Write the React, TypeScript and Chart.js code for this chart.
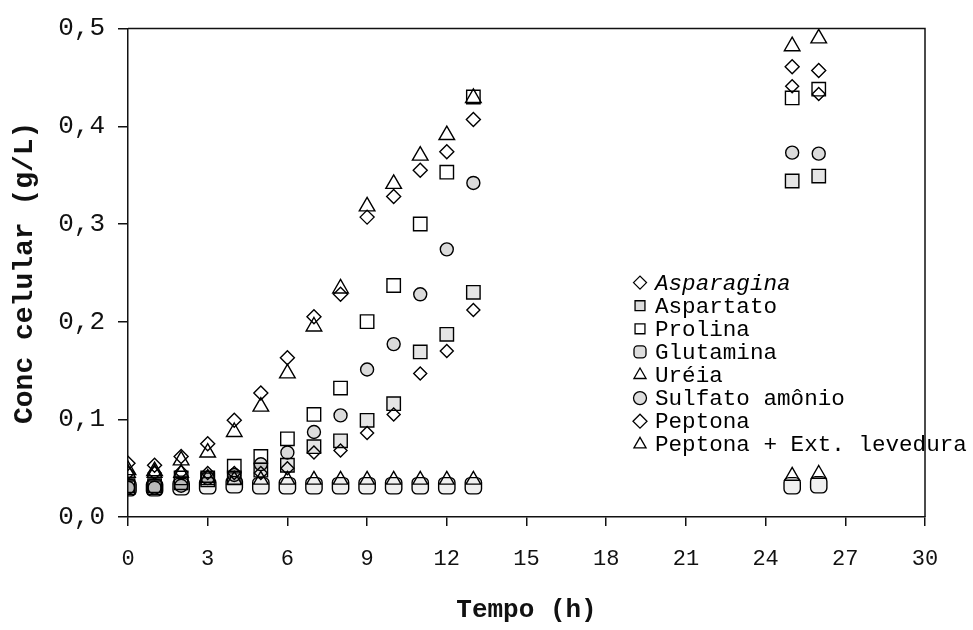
import React, { useEffect, useRef } from 'react';
import { Chart, registerables } from 'chart.js';
import { drawPoint } from 'chart.js/helpers';

Chart.register(...registerables);

const times = [0, 1, 2, 3, 4, 5, 6, 7, 8, 9, 10, 11, 12, 13, 25, 26];
const asparagina = [0.045, 0.045, 0.046, 0.045, 0.045, 0.045, 0.050, 0.066, 0.068, 0.086, 0.105, 0.147, 0.170, 0.212, 0.441, 0.433];
const aspartato = [0.032, 0.032, 0.035, 0.038, 0.040, 0.048, 0.053, 0.072, 0.078, 0.099, 0.116, 0.169, 0.187, 0.230, 0.344, 0.349];
const prolina = [0.030, 0.030, 0.040, 0.040, 0.052, 0.062, 0.080, 0.105, 0.132, 0.200, 0.237, 0.300, 0.353, 0.430, 0.429, 0.438];
const glutamina = [0.030, 0.030, 0.031, 0.032, 0.033, 0.032, 0.032, 0.032, 0.032, 0.032, 0.032, 0.032, 0.032, 0.032, 0.032, 0.033];
const ureia = [0.045, 0.045, 0.045, 0.040, 0.038, 0.038, 0.038, 0.038, 0.038, 0.038, 0.038, 0.038, 0.038, 0.038, 0.042, 0.044];
const sulfato = [0.030, 0.030, 0.032, 0.040, 0.043, 0.054, 0.066, 0.087, 0.104, 0.151, 0.177, 0.228, 0.274, 0.342, 0.373, 0.372];
const peptona = [0.055, 0.053, 0.062, 0.075, 0.099, 0.127, 0.163, 0.205, 0.228, 0.307, 0.328, 0.355, 0.374, 0.407, 0.461, 0.457];
const peptonaExt = [0.048, 0.047, 0.058, 0.066, 0.087, 0.113, 0.147, 0.195, 0.234, 0.318, 0.341, 0.370, 0.391, 0.429, 0.482, 0.490];

const seriesLabels = [
  'Asparagina',
  'Aspartato',
  'Prolina',
  'Glutamina',
  'Uréia',
  'Sulfato amônio',
  'Peptona',
  'Peptona + Ext. levedura',
];

const xTicks = [0, 3, 6, 9, 12, 15, 18, 21, 24, 27, 30];
const yTicks = [0, 0.1, 0.2, 0.3, 0.4, 0.5];

const MONO = "'Liberation Mono', 'Courier New', monospace";

const styles = [
  { pointStyle: 'rectRot', radius: 6.5, fill: 'rgba(0,0,0,0)', italic: true },
  { pointStyle: 'rect', radius: 9.5, fill: 'rgba(0,0,0,0.10)' },
  { pointStyle: 'rect', radius: 9.5, fill: 'rgba(0,0,0,0)' },
  { pointStyle: 'rectRounded', radius: 9.5, fill: 'rgba(0,0,0,0.06)' },
  { pointStyle: 'triangle', radius: 8.5, fill: 'rgba(0,0,0,0)' },
  { pointStyle: 'circle', radius: 6.5, fill: 'rgba(0,0,0,0.14)' },
  { pointStyle: 'rectRot', radius: 7, fill: 'rgba(0,0,0,0)' },
  { pointStyle: 'triangle', radius: 9, fill: 'rgba(0,0,0,0)' },
];

const allSeries = [asparagina, aspartato, prolina, glutamina, ureia, sulfato, peptona, peptonaExt];

const framePlugin = {
  id: 'frame',
  afterDraw(chart: any) {
    const { ctx, chartArea } = chart;
    ctx.save();
    ctx.strokeStyle = '#111';
    ctx.lineWidth = 1.5;
    ctx.beginPath();
    ctx.moveTo(chartArea.left, chartArea.top);
    ctx.lineTo(chartArea.right, chartArea.top);
    ctx.lineTo(chartArea.right, chartArea.bottom);
    ctx.stroke();
    ctx.restore();
  },
};

const legendPlugin = {
  id: 'customLegend',
  afterDraw(chart: any) {
    const { ctx, chartArea } = chart;
    const symX = chartArea.left + 512;
    const textX = symX + 15;
    const startY = chartArea.top + 254;
    const step = 23.1;
    ctx.save();
    chart.data.datasets.forEach((ds: any, i: number) => {
      const y = startY + i * step;
      const st = styles[i];
      ctx.fillStyle = st.fill === 'rgba(0,0,0,0)' ? '#fff' : '#ddd';
      ctx.strokeStyle = '#000';
      ctx.lineWidth = 1.3;
      drawPoint(ctx, { pointStyle: st.pointStyle, radius: Math.min(st.radius, 7), borderWidth: 1.3, rotation: 0 } as any, symX, y);
      ctx.fillStyle = '#000';
      ctx.textBaseline = 'middle';
      ctx.textAlign = 'left';
      ctx.font = `${st.italic ? 'italic ' : ''}22.6px ${MONO}`;
      ctx.fillText(ds.label, textX, y + 1);
    });
    ctx.restore();
  },
};

export default function App() {
  const canvasRef = useRef<HTMLCanvasElement | null>(null);

  useEffect(() => {
    document.body.style.margin = '0';
    const canvas = canvasRef.current;
    if (!canvas) return;
    const datasets = allSeries.map((arr, i) => ({
      label: seriesLabels[i],
      data: times.map((t, j) => ({ x: t, y: arr[j] })),
      showLine: false,
      pointStyle: styles[i].pointStyle as any,
      pointRadius: styles[i].radius,
      pointBorderWidth: 1.4,
      pointBorderColor: '#000',
      pointBackgroundColor: styles[i].fill,
      borderColor: '#000',
      backgroundColor: styles[i].fill,
    }));

    const chart = new Chart(canvas, {
      type: 'scatter',
      data: { datasets },
      options: {
        responsive: false,
        animation: false,
        devicePixelRatio: 1,
        layout: { padding: { top: 24, right: 48, left: 0, bottom: 0 } },
        plugins: {
          legend: { display: false },
          tooltip: { enabled: false },
        },
        scales: {
          x: {
            type: 'linear',
            min: 0,
            max: 30,
            afterFit: (scale: any) => {
              scale.height = 113;
            },
            afterBuildTicks: (scale: any) => {
              scale.ticks = xTicks.map((v) => ({ value: v }));
            },
            ticks: {
              color: '#111',
              font: { family: MONO, size: 22 },
              padding: 20,
              callback: (v: any) => String(v),
            },
            grid: {
              drawOnChartArea: false,
              drawTicks: true,
              tickLength: 9,
              color: '#111',
              lineWidth: 1.5,
            },
            border: { display: true, color: '#111', width: 1.5 },
            title: {
              display: true,
              text: 'Tempo (h)',
              color: '#111',
              font: { family: MONO, size: 26, weight: 'bold' },
              padding: { top: 0, bottom: 4 },
            },
          },
          y: {
            type: 'linear',
            min: 0,
            max: 0.5,
            afterFit: (scale: any) => {
              scale.width = 128;
            },
            afterBuildTicks: (scale: any) => {
              scale.ticks = yTicks.map((v) => ({ value: v }));
            },
            ticks: {
              color: '#111',
              font: { family: MONO, size: 26 },
              padding: 13,
              callback: (v: any) => Number(v).toFixed(1).replace('.', ','),
            },
            grid: {
              drawOnChartArea: false,
              drawTicks: true,
              tickLength: 10,
              color: '#111',
              lineWidth: 1.5,
            },
            border: { display: true, color: '#111', width: 1.5 },
            title: {
              display: true,
              text: 'Conc celular (g/L)',
              color: '#111',
              font: { family: MONO, size: 28, weight: 'bold' },
              padding: { top: 8, bottom: 0 },
            },
          },
        },
      },
      plugins: [framePlugin, legendPlugin],
    });
    return () => chart.destroy();
  }, []);

  return (
    <div style={{ width: 973, height: 630, background: '#fff' }}>
      <canvas ref={canvasRef} width={973} height={630} style={{ display: 'block' }} />
    </div>
  );
}
